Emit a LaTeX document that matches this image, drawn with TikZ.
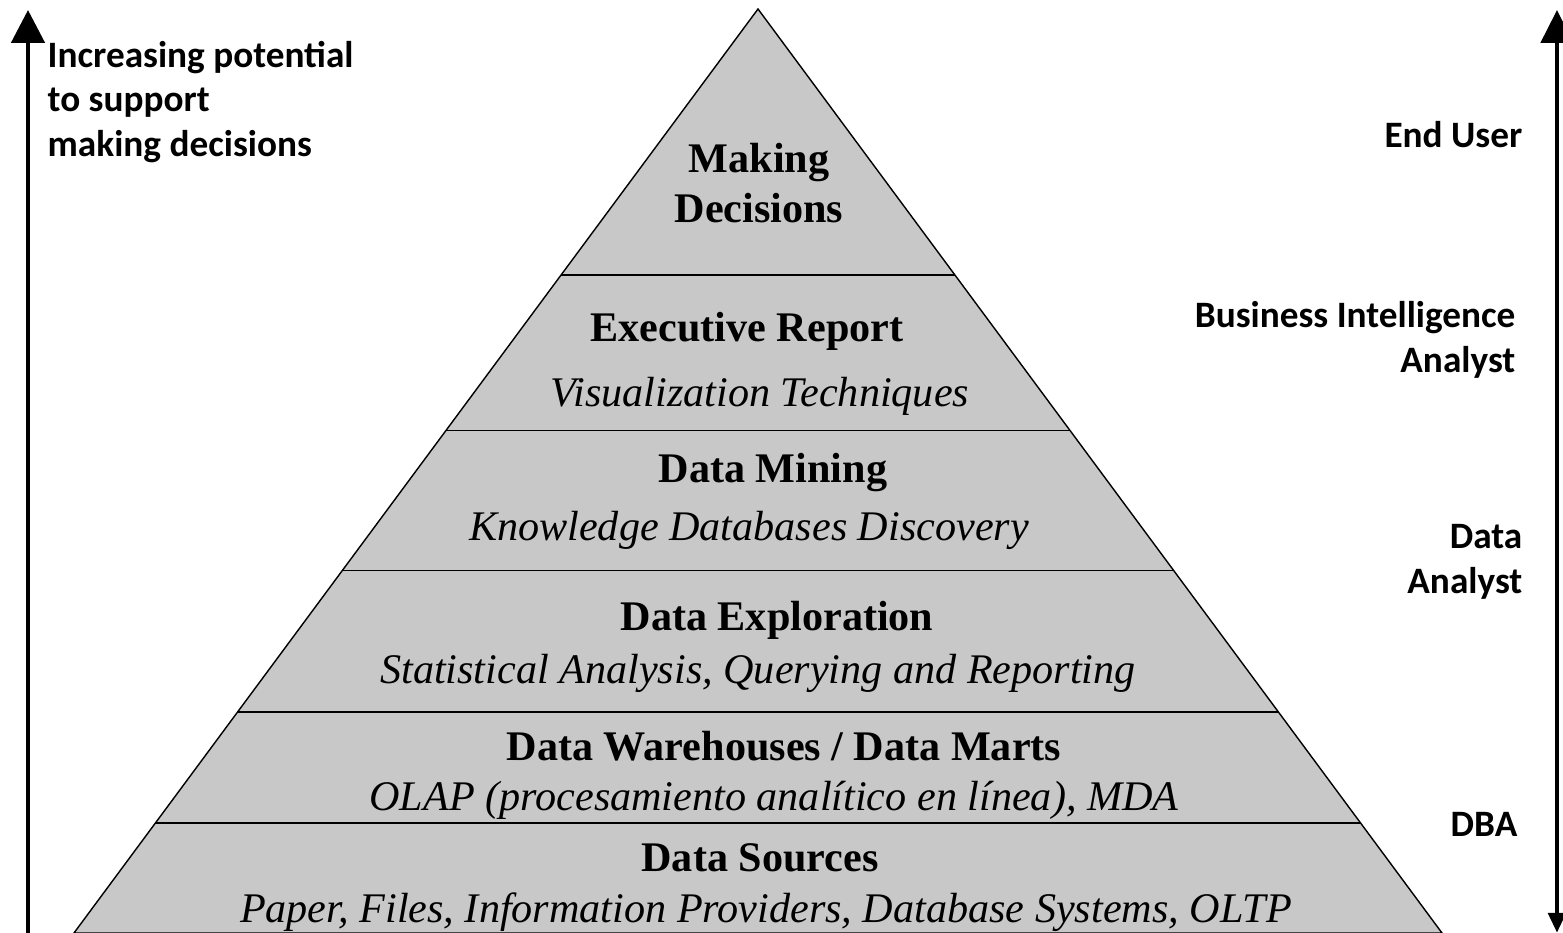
\documentclass[tikz,border=0pt]{standalone}
\usepackage{fontspec}
\setmainfont{Liberation Serif}
\newfontfamily\rolefont{Carlito}
\usetikzlibrary{arrows.meta,calc}

\tikzset{
    title/.style={font=\fontsize{12}{14}\selectfont\bfseries, inner sep=0pt},
    subtitle/.style={font=\fontsize{12}{14}\selectfont\itshape, inner sep=0pt},
    role/.style={font=\rolefont\fontsize{10.6}{12.6}\selectfont\bfseries, inner sep=0pt},
    bigarrow/.style={line width=1.4pt}
}

\begin{document}
\begin{tikzpicture}
    \useasboundingbox (0,0) rectangle (15.63,9.33);

    \coordinate (apex) at (7.58,9.24);
    \coordinate (bl) at (0.74,0);
    \coordinate (br) at (14.42,0);

    \draw[fill={rgb,255:red,200;green,200;blue,200}, thin] (bl) -- (apex) -- (br) -- cycle;
    \foreach \f in {0.712,0.544,0.392,0.239,0.119}
        \draw[thin] ($(bl)!\f!(apex)$) -- ($(br)!\f!(apex)$);

    \begin{scope}[every node/.style={align=center}]
        \node[title] (decide) at (7.59,7.50) {Making\\Decisions};
        \node[title] (report) at (7.47,6.02) {Executive Report};
        \node[subtitle] (visual) at (7.60,5.37) {Visualization Techniques};
        \node[title] (mining) at (7.73,4.60) {Data Mining};
        \node[subtitle] (kdd) at (7.49,4.03) {Knowledge Databases Discovery};
        \node[title] (explore) at (7.77,3.13) {Data Exploration};
        \node[subtitle] (stats) at (7.58,2.60) {Statistical Analysis, Querying and Reporting};
        \node[title] (dw) at (7.84,1.87) {Data Warehouses / Data Marts};
        \node[subtitle] (olap) at (7.74,1.33) {OLAP (procesamiento analítico en línea), MDA};
        \node[title] (sources) at (7.60,0.75) {Data Sources};
        \node[subtitle] (paper) at (7.66,0.21) {Paper, Files, Information Providers, Database Systems, OLTP};
    \end{scope}

    \begin{scope}[every node/.style={role}]
        \node[anchor=west, align=left] (potential) at (0.47,8.31) {Increasing potential\\to support\\making decisions};
        \node[anchor=east, align=right] (enduser) at (15.23,7.98) {End User};
        \node[anchor=east, align=right] (bia) at (15.16,5.93) {Business Intelligence\\Analyst};
        \node[anchor=east, align=right] (analyst) at (15.23,3.71) {Data\\Analyst};
        \node[anchor=east, align=right] (dba) at (15.18,1.09) {DBA};
    \end{scope}

    % axes
    \coordinate (lbot) at (0.28,0);
    \coordinate (ltop) at (0.28,9.23);
    \coordinate (rbot) at (15.57,0);
    \coordinate (rtop) at (15.57,9.23);
    \draw[bigarrow, -{Triangle[length=3.3mm,width=3.3mm]}] (lbot) -- (ltop);
    \draw[bigarrow, {Triangle[length=2mm,width=1.7mm]}-{Triangle[length=3.3mm,width=3.2mm]}] (rbot) -- (rtop);
\end{tikzpicture}
\end{document}
